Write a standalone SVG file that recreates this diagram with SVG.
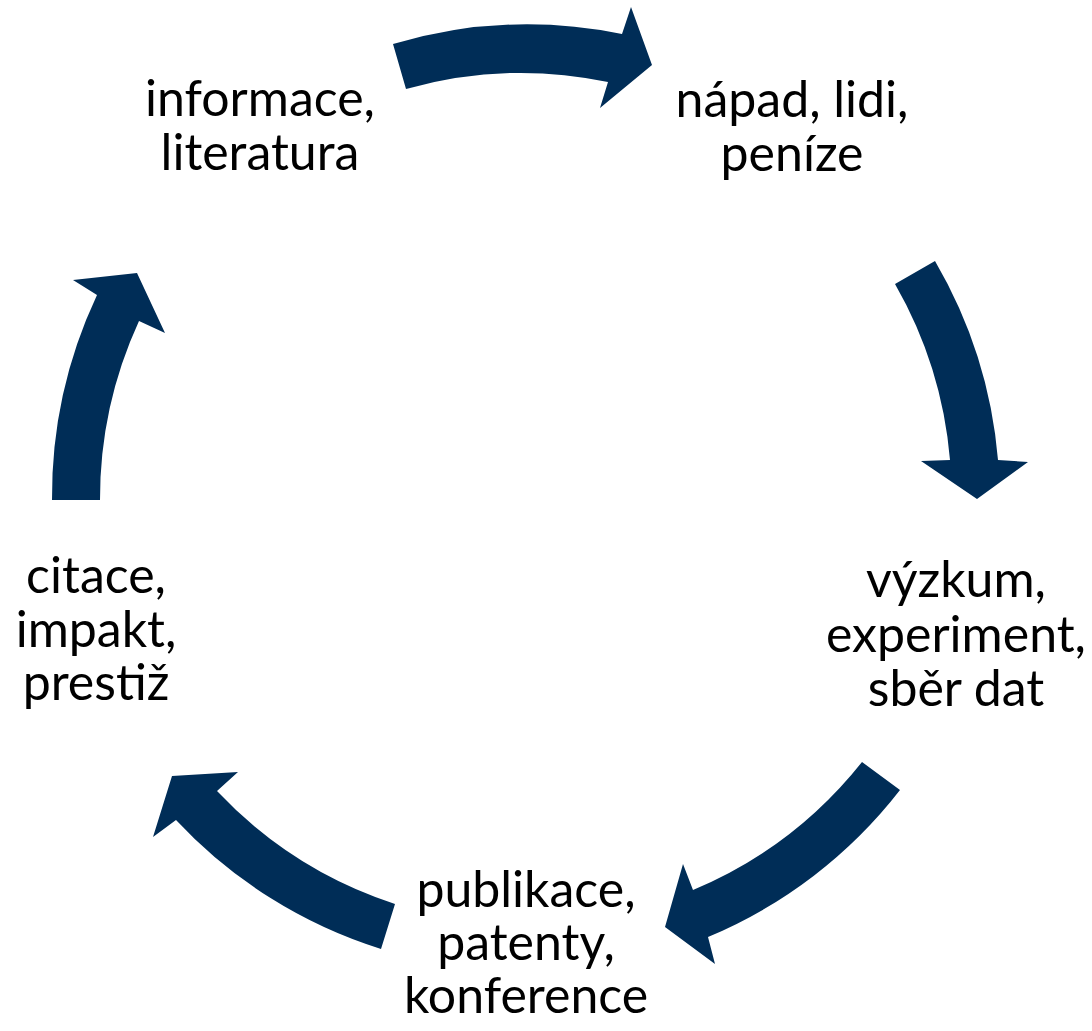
<svg xmlns="http://www.w3.org/2000/svg" width="1092" height="1031" viewBox="0 0 1092 1031">
<style>
.arrow{fill:#002D57;stroke:none}
.lbl{font-family:Lato,"Open Sans","Liberation Sans",sans-serif;font-size:50px;fill:#000;text-anchor:middle}
</style>
<rect width="1092" height="1031" fill="#fff"/>
<g id="connectors">
<path id="arrow-top" class="arrow" d="M393,44 A474,474 0 0 1 622,34 L631,7 L652,65 L600,108 L608,82 A426,426 0 0 0 406,89 Z"/>
<path id="arrow-right" class="arrow" d="M935,261 A474,474 0 0 1 998,460 L1028,462 L977,499 L921,461 L950,460 A426,426 0 0 0 895,284 Z"/>
<path id="arrow-bottomright" class="arrow" d="M900,790 A474,474 0 0 1 708,937 L715,964 L665,927 L683,864 L693,890 A426,426 0 0 0 862,762 Z"/>
<path id="arrow-bottomleft" class="arrow" d="M381,949 A474,474 0 0 1 176,820 L153,837 L172,776 L238,772 L217,791 A426,426 0 0 0 395,904 Z"/>
<path id="arrow-left" class="arrow" d="M52,500 A474,474 0 0 1 97,295 L73,280 L137,273 L165,333 L139,321 A426,426 0 0 0 100,500 Z"/>
</g>
<g id="node-informace">
<text class="lbl" x="260" y="116">informace,</text>
<text class="lbl" x="260" y="170">literatura</text>
</g>
<g id="node-napad">
<text class="lbl" x="792" y="117">nápad, lidi,</text>
<text class="lbl" x="792" y="171">peníze</text>
</g>
<g id="node-vyzkum">
<text class="lbl" x="956" y="597">výzkum,</text>
<text class="lbl" x="956" y="652">experiment,</text>
<text class="lbl" x="956" y="706">sběr dat</text>
</g>
<g id="node-publikace">
<text class="lbl" x="526" y="907">publikace,</text>
<text class="lbl" x="526" y="960">patenty,</text>
<text class="lbl" x="526" y="1013">konference</text>
</g>
<g id="node-citace">
<text class="lbl" x="96" y="593">citace,</text>
<text class="lbl" x="96" y="647">impakt,</text>
<text class="lbl" x="96" y="700">prestiž</text>
</g>
</svg>
